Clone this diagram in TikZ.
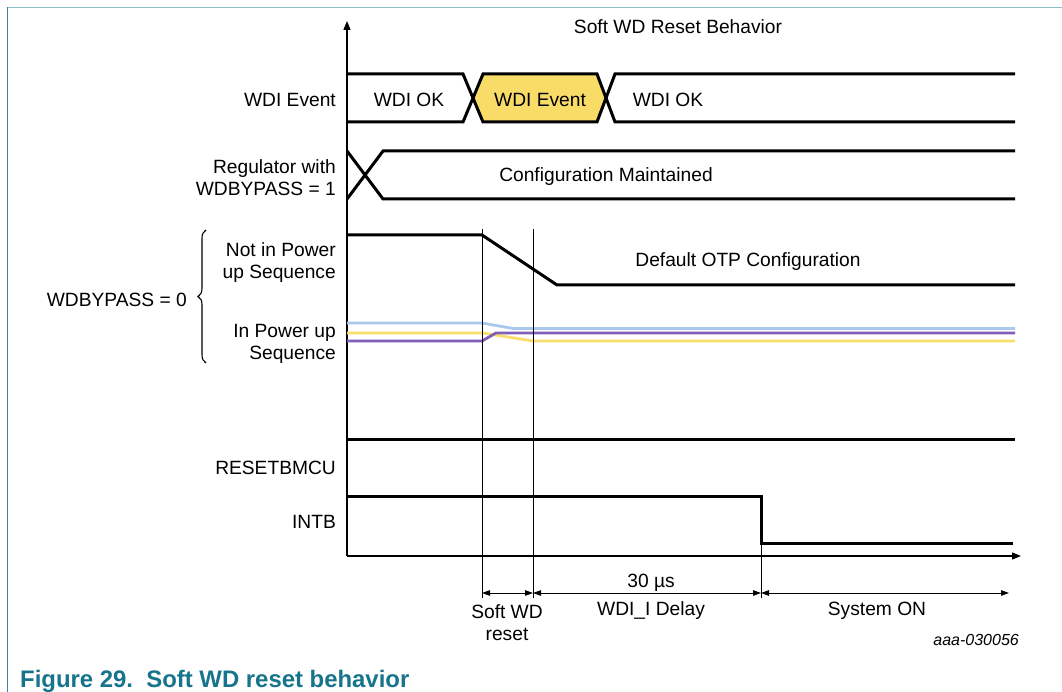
\documentclass[tikz,border=0pt]{standalone}
\usepackage{fontspec}
\setmainfont{Liberation Sans}
\usetikzlibrary{arrows.meta,decorations.pathreplacing}
\definecolor{wdyellow}{RGB}{249,220,104}
\definecolor{lnyellow}{RGB}{249,222,110}
\definecolor{lnblue}{RGB}{168,200,236}
\definecolor{lnpurple}{RGB}{128,94,186}
\definecolor{frameL}{RGB}{58,130,160}
\definecolor{frameT}{RGB}{140,192,200}
\definecolor{captc}{RGB}{22,116,140}
\begin{document}
\begin{tikzpicture}[x=1pt,y=-1pt,
  sig/.style={line width=3pt,line join=miter,line cap=butt},
  csig/.style={line width=2.8pt,line join=round},
  thinln/.style={line width=1pt},
  lbl/.style={font=\fontsize{19.2}{22}\selectfont,inner sep=0pt,align=right,anchor=east},
  txt/.style={font=\fontsize{19.2}{22}\selectfont,inner sep=0pt,align=center},
  dimarr/.style={line width=1pt,{Triangle[length=8pt,width=5.5pt]}-{Triangle[length=8pt,width=5.5pt]}},
  axarr/.style={line width=1.3pt,-{Triangle[length=9pt,width=7pt]}}]
\useasboundingbox (0,0) rectangle (1062,692);
\fill[white] (0,0) rectangle (1062,692);
% frame
\draw[frameT,line width=1.5pt] (7,7.5) -- (1062,7.5);
\draw[frameL,line width=1.5pt] (7.5,7) -- (7.5,692);

% key coordinates
\coordinate (O) at (347,556);
\coordinate (Ytop) at (347,21);
\coordinate (Xend) at (1021,556);
\coordinate (v1t) at (482,229);
\coordinate (v1b) at (482,598);
\coordinate (v2t) at (533,229);
\coordinate (v2b) at (533,598);
\coordinate (v3t) at (761,543);
\coordinate (v3b) at (761,598);
\coordinate (d1) at (482,593);
\coordinate (d2) at (533,593);
\coordinate (d3) at (761,593);
\coordinate (d4) at (1009,593);

% axes
\draw[axarr] (O) -- (Ytop);
\draw[axarr] (O) -- (Xend);

% title
\node[txt] (ttl) at (678,27) {Soft WD Reset Behavior};

% WDI event row
\fill[wdyellow] (473,98) -- (483,74) -- (597,74) -- (606,98) -- (597,122) -- (483,122) -- cycle;
\draw[sig] (347,74) -- (463,74) -- (483,122) -- (597,122) -- (615,74) -- (1015,74);
\draw[sig] (347,122) -- (463,122) -- (483,74) -- (597,74) -- (615,122) -- (1015,122);
\node[lbl] (lwdi) at (336,99.5) {WDI Event};
\node[txt] (ok1) at (409,99.5) {WDI OK};
\node[txt] (ev) at (540,99.5) {WDI Event};
\node[txt] (ok2) at (668,99.5) {WDI OK};

% regulator row
\draw[sig] (347,151) -- (383,199) -- (1015,199);
\draw[sig] (347,199) -- (383,151) -- (1015,151);
\node[lbl] (lreg) at (336,178) {Regulator with\\WDBYPASS = 1};
\node[txt] (cm) at (606,177) {Configuration Maintained};

% not in power up
\draw[sig] (347,235) -- (482,235) -- (557,285) -- (1015,285);
\node[lbl] (lnot) at (336,263) {Not in Power\\up Sequence};
\node[txt] (otp) at (748,262) {Default OTP Configuration};

% in power up
\draw[csig,lnyellow] (347,333) -- (483,333) -- (533,341) -- (1015,341);
\draw[csig,lnblue] (347,323) -- (482,323) -- (513,328.5) -- (1015,328.5);
\draw[csig,lnpurple] (347,341) -- (482,341) -- (496,333) -- (1015,333);
\node[lbl] (lin) at (336,344) {In Power up\\Sequence};

% brace
\draw[line width=1.1pt,decorate,decoration={brace,amplitude=8pt}] (206,363) -- (206,230);
\node[lbl] (lbyp) at (187,299.5) {WDBYPASS = 0};

% RESETBMCU, INTB
\draw[sig] (347,439) -- (1015,439);
\node[lbl] (lres) at (336,467.5) {RESETBMCU};
\draw[sig] (347,496) -- (761,496) -- (761,543) -- (1013,543);
\node[lbl] (lint) at (336,521.5) {INTB};

% verticals
\draw[thinln] (v1t) -- (v1b);
\draw[thinln] (v2t) -- (v2b);
\draw[thinln] (v3t) -- (v3b);

% dimension arrows
\draw[dimarr] (d1) -- (d2);
\draw[dimarr] (d2) -- (d3);
\draw[dimarr] (d3) -- (d4);
\node[txt] (t30) at (651,583) {30 µs};
\node[txt] (tsw) at (507,623) {Soft WD\\reset};
\node[txt] (tdl) at (651,610.5) {WDI\_I Delay};
\node[txt] (tso) at (877,610.5) {System ON};
\node[font=\fontsize{16}{19}\selectfont\itshape,inner sep=0pt,anchor=east] (code) at (1019,640) {aaa-030056};

% caption
\node[font=\fontsize{23.9}{27}\selectfont\bfseries,text=captc,inner sep=0pt,anchor=west] (cap) at (20,681) {Figure 29.\ \ Soft WD reset behavior};
\end{tikzpicture}
\end{document}
